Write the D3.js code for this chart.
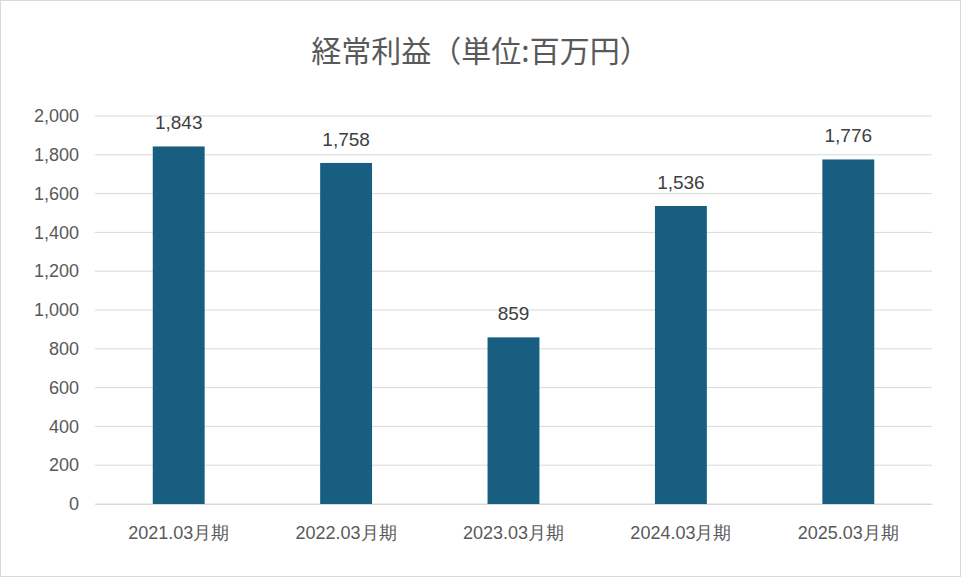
<!DOCTYPE html>
<html><head><meta charset="utf-8">
<script src="https://cdn.jsdelivr.net/npm/d3@7"></script>
<style>body{margin:0;background:#fff}</style>
</head><body>
<script>
const categories = ["2021.03月期","2022.03月期","2023.03月期","2024.03月期","2025.03月期"];
const values = [1843, 1758, 859, 1536, 1776];
const yTicks = [0,200,400,600,800,1000,1200,1400,1600,1800,2000];

const W = 961, H = 577;
const svg = d3.select("body").append("svg").attr("width", W).attr("height", H)
  .attr("font-family", "'Noto Sans CJK JP', 'Liberation Sans', sans-serif");

svg.append("rect").attr("x",0.5).attr("y",0.5).attr("width",W-1).attr("height",H-1)
  .attr("fill","#fff").attr("stroke","#d9d9d9");

svg.append("text").attr("x", W/2).attr("y", 62).attr("text-anchor","middle")
  .attr("font-size", 30).attr("fill","#595959").text("経常利益（単位:百万円）");

const x = d3.scaleBand().domain(categories).range([95, 932]).paddingInner(0.69).paddingOuter(0.345);
const y = d3.scaleLinear().domain([0, 2000]).range([504, 116]);

// gridlines
svg.append("g").selectAll("line").data(yTicks).join("line")
  .attr("x1", 95).attr("x2", 932).attr("y1", d => y(d)).attr("y2", d => y(d))
  .attr("stroke", "#d9d9d9").attr("stroke-width", 1);

const yAxis = svg.append("g").attr("transform","translate(82,0)")
  .call(d3.axisLeft(y).tickValues(yTicks).tickSize(0).tickFormat(d3.format(",")));
yAxis.select(".domain").remove();
yAxis.selectAll("text").attr("font-size", 18).attr("fill","#595959")
  .attr("font-family","'Liberation Sans', sans-serif");

const xAxis = svg.append("g").attr("transform","translate(0,504)")
  .call(d3.axisBottom(x).tickSize(0).tickPadding(22));
xAxis.select(".domain").attr("stroke","#d9d9d9");
xAxis.selectAll("text").attr("font-size", 18).attr("fill","#595959");

svg.append("g").selectAll("rect").data(values).join("rect")
  .attr("x", (d,i) => x(categories[i])).attr("width", x.bandwidth())
  .attr("y", d => y(d)).attr("height", d => y(0) - y(d)).attr("fill", "#175e81");

svg.append("g").selectAll("text").data(values).join("text")
  .attr("x", (d,i) => x(categories[i]) + x.bandwidth()/2).attr("y", d => y(d) - 17)
  .attr("text-anchor","middle").attr("font-size", 19).attr("fill","#404040")
  .attr("font-family","'Liberation Sans', sans-serif")
  .text(d => d3.format(",")(d));
</script>
</body></html>
